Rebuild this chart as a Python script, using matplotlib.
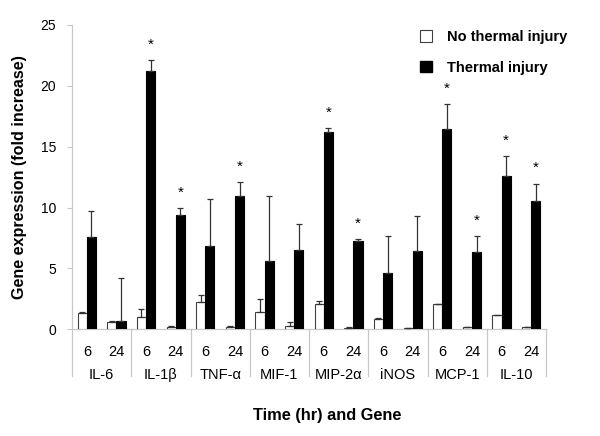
import matplotlib
matplotlib.use("Agg")
import matplotlib.pyplot as plt
from matplotlib.patches import Patch
import numpy as np

plt.rcParams['font.family'] = ['Liberation Sans', 'DejaVu Sans']

genes = ["IL-6", "IL-1β", "TNF-α", "MIF-1", "MIP-2α", "iNOS", "MCP-1", "IL-10"]
times = ["6", "24"]
no_injury = [1.32, 0.63, 1.01, 0.16, 2.22, 0.21, 1.42, 0.25,
             2.11, 0.14, 0.85, 0.10, 2.05, 0.20, 1.18, 0.16]
no_injury_err = [0.13, 0.07, 0.63, 0.14, 0.63, 0.04, 1.07, 0.38,
                 0.19, 0.06, 0.05, 0.0, 0.0, 0.0, 0.0, 0.0]
injury = [7.62, 0.68, 21.24, 9.40, 6.88, 10.96, 5.64, 6.55,
          16.20, 7.29, 4.66, 6.47, 16.42, 6.33, 12.58, 10.50]
injury_err = [2.13, 3.51, 0.85, 0.55, 3.81, 1.13, 5.30, 2.08,
              0.33, 0.13, 2.99, 2.82, 2.08, 1.32, 1.67, 1.47]
significant = [False, False, True, True, False, True, False, False,
               True, True, False, False, True, True, True, True]

fig = plt.figure(figsize=(6.0, 4.36), dpi=100)
ax = fig.add_axes([0.12, 0.2447, 0.79, 0.698])

n = len(no_injury)
x = np.arange(n)
w = 0.31
edge = '#404040'
ax.bar(x - w / 2, no_injury, w, color='white', edgecolor=edge, linewidth=0.8, zorder=3)
ax.bar(x + w / 2, injury, w, color='black', edgecolor='black', linewidth=0.8, zorder=3)

errkw = dict(fmt='none', ecolor='#333333', elinewidth=0.9, capsize=2.2, capthick=0.9, zorder=4)
ax.errorbar(x - w / 2, no_injury, yerr=[np.zeros(n), no_injury_err], **errkw)
ax.errorbar(x + w / 2, injury, yerr=[np.zeros(n), injury_err], **errkw)

for i in range(n):
    if significant[i]:
        ax.annotate('*', (x[i] + w / 2, injury[i] + injury_err[i]), xytext=(0, 6),
                    textcoords='offset points', ha='center', va='bottom', fontsize=11)

ax.set_xlim(-0.5, n - 0.5)
ax.set_ylim(0, 25)
ax.set_yticks([0, 5, 10, 15, 20, 25])
ax.tick_params(axis='y', direction='out', length=3.5, color='#c8c8c8', labelsize=10, pad=8)
ax.set_xticks([])
for s in ['top', 'right']:
    ax.spines[s].set_visible(False)
for s in ['left', 'bottom']:
    ax.spines[s].set_color('#c8c8c8')
    ax.spines[s].set_linewidth(0.9)

# time labels and gene labels
trans = ax.get_xaxis_transform()
for i in range(n):
    ax.text(x[i], -0.075, times[i % 2], transform=trans, ha='center', va='center', fontsize=10.5)
for g, name in enumerate(genes):
    ax.text(2 * g + 0.5, -0.15, name, transform=trans, ha='center', va='center', fontsize=10.5)
for b in range(len(genes) + 1):
    ax.plot([2 * b - 0.5, 2 * b - 0.5], [0, -0.153], transform=trans, color='#c8c8c8',
            lw=0.9, clip_on=False)

ax.set_ylabel('Gene expression (fold increase)', fontsize=11.6, fontweight='bold', labelpad=10)
fig.text(0.545, 0.047, 'Time (hr) and Gene', ha='center', va='center', fontsize=11.8,
         fontweight='bold')

handles = [Patch(facecolor='white', edgecolor=edge, linewidth=0.8),
           Patch(facecolor='black', edgecolor='black')]
leg = fig.legend(handles, ['No thermal injury', 'Thermal injury'], loc='upper left',
                 bbox_to_anchor=(0.69, 0.945), frameon=False,
                 prop={'weight': 'bold', 'size': 10.5}, handlelength=0.85, handleheight=0.85,
                 handletextpad=1.0, labelspacing=1.15, borderaxespad=0)

fig.savefig('out.png', dpi=100)
